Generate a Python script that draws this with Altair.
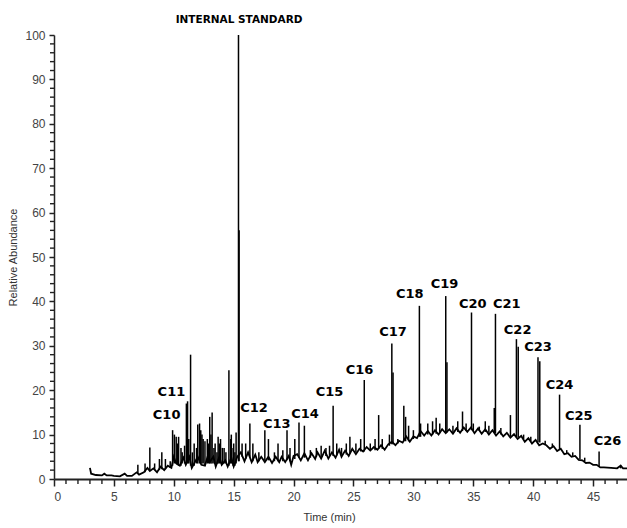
import altair as alt
import pandas as pd

# ---- baseline (noisy hump) ----
base_t = [3.0, 3.1, 3.5, 4.0, 4.2, 4.4, 4.8, 5.0, 5.5, 5.9, 6.1, 6.5, 6.9, 7.1, 7.5, 7.8, 8.0, 8.3,
          8.6, 8.9, 9.2, 9.5, 9.8, 10.0, 10.2, 10.5, 10.8, 11.0, 11.3, 11.5, 11.8, 12.0, 12.3, 12.6,
          12.8, 13.0, 13.3, 13.5, 13.8, 14.0, 14.3, 14.5, 14.8, 15.0, 15.3, 15.6, 15.9, 16.2, 16.5,
          16.8, 17.0, 17.3, 17.6, 17.9, 18.2, 18.5, 18.8, 19.0, 19.3, 19.6, 19.8, 20.0, 20.3, 20.6,
          20.9, 21.2, 21.5, 21.8, 22.0, 22.3, 22.6, 22.9, 23.2, 23.5, 23.8, 24.0, 24.3, 24.6, 24.9,
          25.2, 25.5, 25.8, 26.1, 26.4, 26.7, 27.0, 27.3, 27.6, 27.9, 28.2, 28.5, 28.8, 29.1, 29.4,
          29.7, 30.0, 30.3, 30.6, 30.9, 31.2, 31.5, 31.8, 32.1, 32.4, 32.7, 33.0, 33.3, 33.6, 33.9,
          34.2, 34.5, 34.8, 35.1, 35.4, 35.7, 36.0, 36.3, 36.6, 36.9, 37.2, 37.5, 37.8, 38.1, 38.4,
          38.7, 39.0, 39.3, 39.6, 39.9, 40.2, 40.5, 40.8, 41.1, 41.4, 41.7, 42.0, 42.3, 42.6, 42.9,
          43.2, 43.5, 43.8, 44.1, 44.4, 44.7, 45.0, 45.3, 45.6, 45.9, 46.5, 47.0, 47.3, 47.5, 48.0]
base_v = [2.5, 1.2, 0.9, 0.8, 1.2, 0.8, 0.8, 0.7, 0.6, 1.2, 0.7, 0.7, 1.5, 1.0, 1.5, 2.5, 1.8, 2.4,
          1.5, 2.8, 2.0, 3.0, 2.5, 5.0, 3.5, 3.0, 4.8, 3.2, 5.0, 2.5, 4.0, 5.0, 3.2, 3.0,
          4.8, 3.8, 5.0, 2.8, 5.0, 3.2, 4.2, 2.8, 4.8, 2.8, 5.0, 6.0, 4.0, 6.0, 3.8,
          5.5, 3.8, 5.0, 3.8, 5.0, 3.6, 5.0, 3.8, 5.0, 3.8, 5.2, 3.2, 5.2, 5.6, 4.2,
          5.8, 4.2, 5.8, 4.5, 6.0, 4.6, 6.4, 4.6, 6.0, 4.8, 6.6, 5.0, 6.4, 5.2, 6.8,
          5.6, 6.8, 6.2, 7.2, 6.4, 7.2, 6.6, 7.6, 6.6, 7.8, 8.4, 7.6, 8.6, 8.2, 9.6,
          8.4, 9.6, 9.2, 10.8, 9.8, 10.8, 9.8, 11.0, 10.0, 11.2, 10.3, 11.2, 10.2, 11.4, 10.4,
          11.6, 10.6, 11.6, 10.3, 11.4, 10.2, 11.2, 10.0, 11.0, 9.8, 10.7, 9.6, 10.4, 9.3, 10.1,
          9.0, 9.7, 8.4, 9.2, 8.0, 8.8, 7.6, 8.0, 7.6, 6.8, 7.4, 6.3, 6.8, 5.6, 5.8,
          5.0, 5.2, 4.3, 4.2, 3.6, 3.7, 3.2, 3.2, 2.6, 2.6, 2.5, 2.4, 3.0, 2.4, 2.4]

# ---- peaks: retention time, apex, local baseline ----
peak_t = [7.0, 7.6, 8.0, 8.4, 8.8, 9.0, 9.3, 9.7, 9.9, 10.05, 10.2, 10.3, 10.4, 10.6, 10.7, 10.9,
          11.05, 11.15, 11.25, 11.4, 11.55, 11.7, 11.9, 12.0, 12.15, 12.25, 12.35, 12.45, 12.6, 12.8,
          12.9, 13.0, 13.1, 13.2, 13.35, 13.45, 13.6, 13.7, 13.8, 13.9, 14.05, 14.2, 14.35, 14.6,
          14.75, 14.8, 14.95, 15.0, 15.1, 15.2, 15.4, 15.45, 15.7, 16.0, 16.35, 16.6, 17.1, 17.6,
          17.9, 18.4, 18.7, 19.1, 19.45, 19.7, 20.1, 20.45, 20.9, 21.4, 21.9, 22.3, 22.7, 23.0, 23.3,
          23.6, 24.0, 24.4, 24.7, 25.2, 25.6, 25.9, 26.4, 26.8, 27.1, 27.4, 28.0, 28.2, 28.3, 28.7,
          29.2, 29.35, 29.6, 30.0, 30.5, 30.6, 31.2, 31.6, 31.9, 32.2, 32.7, 32.8, 33.3, 33.7, 34.1,
          34.4, 34.85, 35.0, 35.5, 36.0, 36.3, 36.75, 36.85, 37.3, 38.1, 38.6, 38.75, 39.2, 39.8,
          40.4, 40.55, 41.0, 41.6, 42.2, 42.8, 43.3, 43.9, 44.3, 45.5, 47.3]
peak_h = [3.2, 3.5, 7.1, 3.5, 4.5, 6.0, 4.5, 4.0, 11.0, 10.0, 9.5, 8.0, 9.5, 7.0, 6.0, 7.5,
          17.0, 17.5, 9.0, 28.0, 6.0, 8.0, 7.0, 12.3, 12.5, 11.0, 10.0, 9.0, 8.5, 9.0,
          8.0, 14.0, 10.0, 15.0, 7.0, 8.0, 6.0, 9.5, 8.0, 9.0, 7.0, 7.0, 6.0, 24.5,
          9.0, 10.0, 7.0, 8.0, 6.0, 10.5, 100.0, 56.0, 8.0, 8.0, 12.5, 8.0, 6.0, 11.0,
          9.0, 6.0, 8.0, 6.5, 11.0, 7.0, 9.0, 12.7, 12.0, 6.5, 7.0, 7.5, 7.0, 7.5, 16.5,
          8.0, 7.0, 8.0, 9.5, 8.0, 9.0, 22.3, 8.0, 9.0, 14.4, 9.0, 10.0, 30.5, 24.0, 9.0,
          16.5, 14.0, 12.0, 11.0, 39.0, 12.5, 12.5, 13.0, 13.8, 12.5, 41.2, 26.3, 12.0, 13.0, 15.2,
          12.5, 37.5, 12.5, 11.8, 13.0, 12.0, 16.0, 37.2, 11.5, 14.4, 31.5, 29.8, 10.0, 9.5,
          27.4, 26.5, 8.6, 8.0, 19.0, 6.5, 6.0, 12.2, 4.8, 6.2, 3.2]
peak_b = [1.2, 1.5, 2.0, 2.0, 2.0, 2.2, 2.2, 2.5, 3.0, 3.5, 3.5, 3.2, 3.0, 3.0, 3.5, 3.5,
          3.5, 3.5, 3.5, 3.0, 3.0, 3.0, 3.5, 3.5, 3.5, 3.5, 3.5, 3.5, 3.0, 3.5,
          3.5, 3.5, 3.5, 3.5, 3.5, 3.5, 3.5, 3.5, 3.5, 3.5, 3.5, 3.5, 3.5, 3.0,
          3.5, 3.5, 3.0, 3.0, 3.0, 3.5, 4.0, 4.0, 5.0, 4.5, 5.0, 4.0, 4.0, 4.2,
          4.2, 4.0, 4.0, 4.0, 4.2, 4.0, 4.5, 4.8, 4.8, 4.8, 5.0, 5.0, 5.2, 5.2, 5.2,
          5.3, 5.5, 5.5, 5.8, 6.0, 6.2, 6.2, 6.5, 6.5, 6.8, 6.8, 7.5, 7.8, 7.8, 8.0,
          8.5, 8.5, 8.5, 9.0, 9.5, 9.5, 10.0, 10.0, 10.2, 10.3, 10.5, 10.5, 10.5, 10.6, 10.8,
          10.8, 11.0, 10.8, 10.8, 10.6, 10.4, 10.4, 10.3, 10.0, 9.6, 9.4, 9.4, 9.0, 8.5,
          8.3, 8.2, 7.7, 7.1, 6.6, 5.7, 5.2, 4.5, 4.0, 2.8, 2.4]

# ---- peak labels ----
label_text = ["C10", "C11", "C12", "C13", "C14", "C15", "C16", "C17", "C18",
              "C19", "C20", "C21", "C22", "C23", "C24", "C25", "C26"]
label_t = [9.4, 9.8, 16.7, 18.6, 20.95, 23.0, 25.5, 28.3, 29.7,
           32.6, 34.95, 37.8, 38.7, 40.4, 42.2, 43.8, 46.2]
label_v = [14.4, 19.5, 16.1, 12.5, 14.7, 19.5, 24.6, 33.0, 41.7,
           43.9, 39.4, 39.4, 33.6, 29.8, 21.1, 14.2, 8.6]

std_text = ["INTERNAL STANDARD"]
std_t = [15.45]
std_v = [103.3]

x_major = [0, 5, 10, 15, 20, 25, 30, 35, 40, 45]
x_minor = [1, 2, 3, 4, 6, 7, 8, 9, 11, 12, 13, 14, 16, 17, 18, 19, 21, 22, 23, 24,
           26, 27, 28, 29, 31, 32, 33, 34, 36, 37, 38, 39, 41, 42, 43, 44, 46, 47]
y_major = [0, 10, 20, 30, 40, 50, 60, 70, 80, 90, 100]
y_minor = [2, 4, 6, 8, 12, 14, 16, 18, 22, 24, 26, 28, 32, 34, 36, 38, 42, 44, 46, 48,
           52, 54, 56, 58, 62, 64, 66, 68, 72, 74, 76, 78, 82, 84, 86, 88, 92, 94, 96, 98]

PLOT_W = 573
PLOT_H = 444
XMAX = 47.83
YMAX = 100.0
# minor tick lengths, converted from pixels to data units
XTICK_LEN = 5 * YMAX / PLOT_H     # vertical tick under the x axis
YTICK_LEN = 4 * XMAX / PLOT_W     # horizontal tick left of the y axis

base_df = pd.DataFrame({"t": base_t, "v": base_v})
peak_df = pd.DataFrame({"t": peak_t, "h": peak_h, "b": peak_b})
lab_df = pd.DataFrame({"label": label_text, "t": label_t, "v": label_v})
std_df = pd.DataFrame({"label": std_text, "t": std_t, "v": std_v})
xmin_df = pd.DataFrame({"t": [float(v) for v in x_minor],
                        "y0": [0.0] * len(x_minor),
                        "y1": [-XTICK_LEN] * len(x_minor)})
ymin_df = pd.DataFrame({"v": [float(v) for v in y_minor],
                        "x0": [0.0] * len(y_minor),
                        "x1": [-YTICK_LEN] * len(y_minor)})

xs = alt.Scale(domain=[0, XMAX], nice=False, zero=False)
ys = alt.Scale(domain=[0, YMAX], nice=False)

tick_font = "Liberation Sans"
tick_col = "#444444"
axis_col = "#222222"

x_axis = alt.Axis(values=x_major, tickSize=7, tickWidth=1.5, tickColor=axis_col,
                  domainColor=axis_col, domainWidth=2, labelFont=tick_font, labelFontSize=12,
                  labelColor=tick_col, labelPadding=5, title="Time (min)", titleFont=tick_font,
                  titleFontSize=11, titleFontWeight="normal", titleColor="#333333", titlePadding=9,
                  titleX=275, grid=False, orient="bottom")
y_axis = alt.Axis(values=y_major, tickSize=5, tickWidth=1.5, tickColor=axis_col,
                  domainColor=axis_col, domainWidth=1.5, labelFont=tick_font, labelFontSize=12,
                  labelColor=tick_col, labelPadding=4, title="Relative Abundance",
                  titleFont=tick_font, titleFontSize=11, titleFontWeight="normal",
                  titleColor="#333333", titlePadding=6, grid=False, orient="left")

line = alt.Chart(base_df).mark_line(color="black", strokeWidth=1.8).encode(
    x=alt.X("t:Q", scale=xs, axis=x_axis),
    y=alt.Y("v:Q", scale=ys, axis=y_axis),
)

rules = alt.Chart(peak_df).mark_rule(color="black", strokeWidth=1.5).encode(
    x=alt.X("t:Q", scale=xs),
    y=alt.Y("b:Q", scale=ys),
    y2="h:Q",
)

# minor ticks, drawn through the same scales just outside the axes
xminor = alt.Chart(xmin_df).mark_rule(color=axis_col, strokeWidth=1.4, clip=False).encode(
    x=alt.X("t:Q", scale=xs),
    y=alt.Y("y0:Q", scale=ys),
    y2="y1:Q",
)
yminor = alt.Chart(ymin_df).mark_rule(color=axis_col, strokeWidth=1.4, clip=False).encode(
    y=alt.Y("v:Q", scale=ys),
    x=alt.X("x0:Q", scale=xs),
    x2="x1:Q",
)

labels = alt.Chart(lab_df).mark_text(font="DejaVu Sans", fontWeight="bold", fontSize=13,
                                     color="black", align="center", baseline="middle").encode(
    x=alt.X("t:Q", scale=xs),
    y=alt.Y("v:Q", scale=ys),
    text="label:N",
)

std = alt.Chart(std_df).mark_text(font="DejaVu Sans", fontWeight="bold", fontSize=10.5,
                                  color="black", align="center", baseline="middle").encode(
    x=alt.X("t:Q", scale=xs),
    y=alt.Y("v:Q", scale=ys),
    text="label:N",
)

chart = alt.layer(line, rules, xminor, yminor, labels, std).properties(
    width=PLOT_W, height=PLOT_H,
    autosize=alt.AutoSizeParams(type="none"),
    padding={"left": 54, "top": 35, "right": 0, "bottom": 49},
).configure_view(stroke=None)

chart.save("out.html", embed_options={"renderer": "svg", "actions": False})
